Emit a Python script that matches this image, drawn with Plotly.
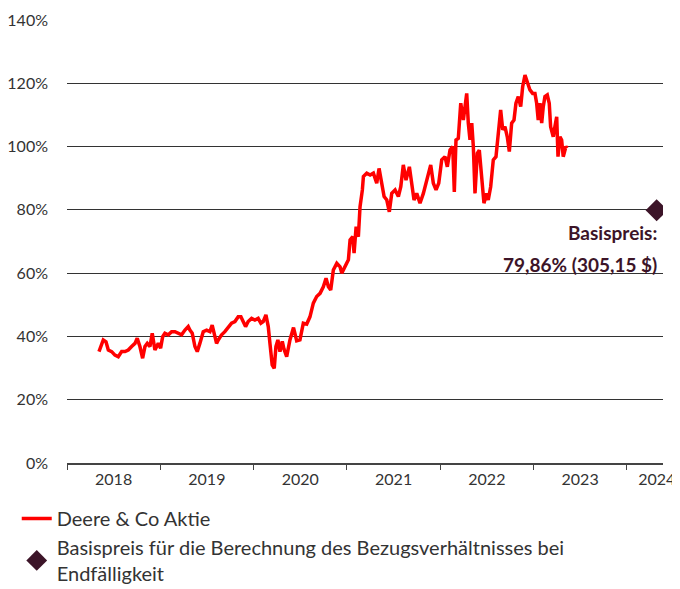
import datetime as dt
import plotly.graph_objects as go

# ---- data (decimal years, % of reference level) ----
t_years = [
    2018.343, 2018.389, 2018.418, 2018.443, 2018.479, 2018.514, 2018.550, 2018.586, 2018.622, 2018.657,
    2018.693, 2018.729, 2018.753, 2018.782, 2018.811, 2018.836, 2018.861, 2018.890, 2018.914, 2018.943,
    2018.979, 2019.004, 2019.026, 2019.050, 2019.086, 2019.122, 2019.158, 2019.193, 2019.229, 2019.265,
    2019.300, 2019.318, 2019.343, 2019.372, 2019.397, 2019.425, 2019.461, 2019.497, 2019.533, 2019.557,
    2019.579, 2019.604, 2019.622, 2019.658, 2019.693, 2019.729, 2019.765, 2019.801, 2019.836, 2019.865,
    2019.890, 2019.915, 2019.943, 2019.980, 2020.015, 2020.050, 2020.079, 2020.104, 2020.133, 2020.158,
    2020.176, 2020.200, 2020.222, 2020.240, 2020.261, 2020.283, 2020.308, 2020.326, 2020.355, 2020.390,
    2020.428, 2020.462, 2020.497, 2020.533, 2020.569, 2020.604, 2020.640, 2020.676, 2020.712, 2020.747,
    2020.776, 2020.801, 2020.826, 2020.854, 2020.891, 2020.926, 2020.944, 2020.980, 2021.015, 2021.033,
    2021.062, 2021.076, 2021.098, 2021.122, 2021.140, 2021.165, 2021.176, 2021.212, 2021.248, 2021.283,
    2021.319, 2021.344, 2021.373, 2021.398, 2021.427, 2021.454, 2021.480, 2021.516, 2021.551, 2021.577,
    2021.604, 2021.633, 2021.669, 2021.694, 2021.719, 2021.748, 2021.783, 2021.819, 2021.848, 2021.872,
    2021.898, 2021.926, 2021.955, 2021.984, 2022.016, 2022.051, 2022.076, 2022.105, 2022.134, 2022.151,
    2022.169, 2022.194, 2022.220, 2022.248, 2022.284, 2022.301, 2022.319, 2022.338, 2022.355, 2022.373,
    2022.398, 2022.419, 2022.445, 2022.469, 2022.498, 2022.515, 2022.541, 2022.569, 2022.598, 2022.623,
    2022.648, 2022.670, 2022.694, 2022.719, 2022.741, 2022.766, 2022.791, 2022.812, 2022.837, 2022.863,
    2022.884, 2022.909, 2022.934, 2022.962, 2022.991, 2023.016, 2023.034, 2023.051, 2023.070, 2023.088,
    2023.105, 2023.123, 2023.148, 2023.169, 2023.184, 2023.212, 2023.230, 2023.249, 2023.263, 2023.284,
    2023.302, 2023.319, 2023.348, 2023.362,
]
deere_pct = [
    35.2, 38.9, 38.3, 35.7, 35.2, 34.1, 33.6, 35.2, 35.2, 35.7,
    36.8, 37.8, 39.4, 36.8, 33.1, 36.8, 37.8, 36.8, 41.0, 35.7,
    37.8, 36.3, 39.9, 41.0, 40.5, 41.5, 41.5, 41.0, 40.5, 42.0,
    43.1, 42.0, 41.0, 36.8, 35.2, 37.8, 41.5, 42.0, 41.5, 43.6,
    41.0, 37.8, 38.9, 40.5, 41.5, 43.1, 44.2, 44.7, 46.2, 46.2,
    44.7, 43.1, 44.7, 45.7, 45.2, 45.7, 44.2, 44.7, 46.8, 43.1,
    37.8, 31.0, 29.9, 36.8, 38.9, 35.2, 38.4, 36.0, 33.6, 38.9,
    42.8, 38.6, 38.9, 44.2, 43.9, 46.2, 50.5, 52.6, 53.6, 55.7,
    58.4, 55.7, 54.7, 61.0, 63.1, 62.0, 60.0, 62.0, 64.2, 70.5,
    71.5, 66.3, 74.7, 71.5, 81.0, 86.3, 90.5, 91.6, 91.0, 91.6,
    88.4, 93.1, 87.3, 84.2, 83.1, 79.4, 85.2, 86.3, 84.2, 87.3,
    94.2, 89.4, 93.6, 87.3, 83.1, 85.2, 82.1, 85.2, 88.4, 90.5,
    94.2, 88.4, 86.3, 88.4, 95.8, 96.8, 93.6, 98.9, 100.0, 85.7,
    102.1, 102.6, 113.7, 108.4, 116.8, 107.4, 102.1, 107.4, 100.0, 85.2,
    97.9, 98.9, 90.5, 82.1, 85.2, 83.1, 87.3, 95.8, 96.8, 103.1,
    111.6, 105.3, 106.3, 103.1, 98.4, 107.4, 108.4, 113.7, 115.8, 112.6,
    118.9, 122.6, 120.5, 117.9, 116.8, 116.8, 113.7, 108.4, 113.7, 107.4,
    112.6, 115.8, 116.3, 113.7, 106.3, 103.1, 106.3, 109.4, 96.8, 103.1,
    102.1, 96.8, 100.0, 99.5,
]
strike_year = [2024.32]
strike_pct = [79.86]

years = [2018, 2019, 2020, 2021, 2022, 2023, 2024]
y_ticks = [0, 20, 40, 60, 80, 100, 120, 140]

series_name = "Deere & Co Aktie"
strike_name = "Basispreis für die Berechnung des Bezugsverhältnisses bei<br>Endfälligkeit"
strike_label_1 = "Basispreis:"
strike_label_2 = "79,86% (305,15 $)"


def to_date(y):
    yr = int(y)
    start = dt.datetime(yr, 1, 1)
    end = dt.datetime(yr + 1, 1, 1)
    return start + (end - start) * (y - yr)


x_dates = [to_date(v) for v in t_years]
strike_dates = [to_date(v) for v in strike_year]

RED = "#ff0000"
MAROON = "#3c1428"
TXT = "#333333"
FONT = "Lato, Noto Sans, sans-serif"

x_start = to_date(2018.0)
x_end = to_date(2024.388)

fig = go.Figure()
fig.add_trace(go.Scatter(
    x=x_dates, y=deere_pct, mode="lines", name=series_name,
    line=dict(color=RED, width=3.5), hoverinfo="skip",
))
fig.add_trace(go.Scatter(
    x=strike_dates, y=strike_pct, mode="markers", name=strike_name,
    marker=dict(symbol="diamond", size=17, color=MAROON), hoverinfo="skip",
))

tick_bounds = [dt.datetime(y, 1, 1) for y in years]
label_pos = [to_date(y + 0.5) for y in years[:-1]] + [to_date(2024.322)]

fig.update_layout(
    width=672, height=581,
    margin=dict(l=59, r=17, t=12, b=126, autoexpand=False),
    paper_bgcolor="white", plot_bgcolor="white",
    font=dict(family=FONT, size=16, color=TXT),
    showlegend=True,
    legend=dict(
        xref="container", yref="container",
        x=0.013, y=0.155, xanchor="left", yanchor="top",
        font=dict(family=FONT, size=20, color=TXT),
        bgcolor="rgba(0,0,0,0)", tracegroupgap=6, itemwidth=30,
    ),
    xaxis=dict(
        type="date", range=[x_start, x_end], automargin=False,
        tickvals=tick_bounds, ticktext=[""] * len(tick_bounds),
        ticks="outside", ticklen=5, tickcolor="#444", tickwidth=1,
        showgrid=False, showline=True, linecolor="#444", linewidth=1.5,
        zeroline=False,
    ),
    xaxis2=dict(
        type="date", range=[x_start, x_end], overlaying="x", anchor="y", side="bottom",
        automargin=False, ticklabelstandoff=5,
        tickvals=label_pos, ticktext=[str(y) for y in years],
        ticks="", showgrid=False, showline=False, zeroline=False,
        tickfont=dict(family=FONT, size=16, color=TXT),
    ),
    yaxis=dict(
        range=[0, 140], tickvals=y_ticks, ticktext=[f"{v}%" for v in y_ticks],
        automargin=False,
        showgrid=True, gridcolor="#333", gridwidth=1, zeroline=False,
        ticks="", ticklabelstandoff=18, showline=False,
        tickfont=dict(family=FONT, size=16, color=TXT),
    ),
)

fig.add_trace(go.Scatter(x=[x_start], y=[None], xaxis="x2", showlegend=False,
                         hoverinfo="skip", mode="lines"))

fig.add_annotation(x=0.993, xref="paper", y=72.7, yref="y", text=f"<b>{strike_label_1}</b>",
                   showarrow=False, xanchor="right", yanchor="middle",
                   font=dict(family=FONT, size=19, color=MAROON))
fig.add_annotation(x=0.993, xref="paper", y=62.6, yref="y", text=f"<b>{strike_label_2}</b>",
                   showarrow=False, xanchor="right", yanchor="middle",
                   font=dict(family=FONT, size=19, color=MAROON))

fig.write_html("out.html")
